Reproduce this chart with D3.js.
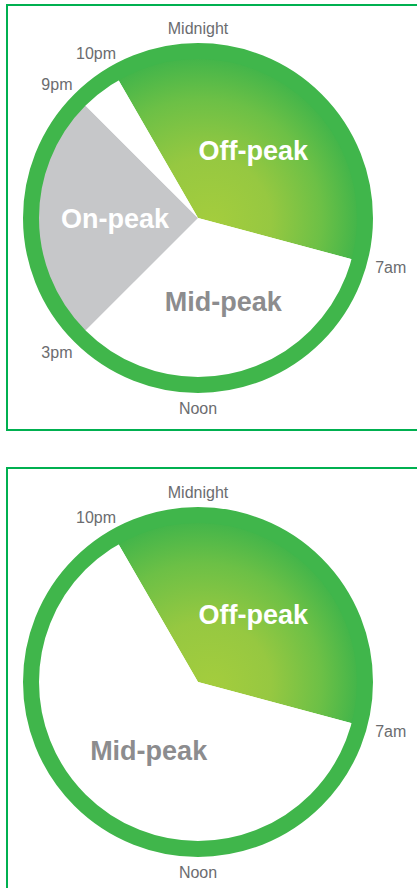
<!DOCTYPE html>
<html>
<head>
<meta charset="utf-8">
<script src="https://cdn.jsdelivr.net/npm/d3@7"></script>
<style>
  html, body { margin: 0; padding: 0; background: #ffffff; }
  svg { display: block; }
</style>
</head>
<body>
<svg id="chart" width="417" height="888"></svg>
<script>
// ---- data ----
const hourTicks = [0, 7, 12, 15, 21, 22];
const hourTickLabels = ["Midnight", "7am", "Noon", "3pm", "9pm", "10pm"];

// Top panel: schedule starting at 10pm (hour 22), durations in hours
const topStartHour = 22;
const topPeriods = ["Off-peak", "Mid-peak", "On-peak", "Mid-peak"];
const topHours = [9, 8, 6, 1];
const topLabelled = [true, true, true, false];
const topTicks = ["Midnight", "10pm", "9pm", "7am", "3pm", "Noon"];

// Bottom panel
const bottomStartHour = 22;
const bottomPeriods = ["Off-peak", "Mid-peak"];
const bottomHours = [9, 15];
const bottomLabelled = [true, true];
const bottomTicks = ["Midnight", "10pm", "7am", "Noon"];

// ---- drawing ----
const svg = d3.select("#chart");
const angle = d3.scaleLinear().domain([0, 24]).range([0, 2 * Math.PI]);

const defs = svg.append("defs");
const grad = defs.append("radialGradient")
  .attr("id", "greenGrad")
  .attr("gradientUnits", "userSpaceOnUse")
  .attr("cx", 0).attr("cy", 0).attr("r", 160).attr("fx", 15).attr("fy", 5);
grad.append("stop").attr("offset", "0%").attr("stop-color", "#a4cd3d");
grad.append("stop").attr("offset", "40%").attr("stop-color", "#96c841");
grad.append("stop").attr("offset", "75%").attr("stop-color", "#6cc046");
grad.append("stop").attr("offset", "100%").attr("stop-color", "#43b54a");

const fillFor = name => name === "Off-peak" ? "url(#greenGrad)" : (name === "On-peak" ? "#c6c7c9" : "#ffffff");
const textFor = name => name === "Mid-peak" ? "#8c8c8e" : "#ffffff";

const R_ring = 167, ringW = 16;
const R_label = 184;
const FONT = "'Liberation Sans', Arial, Helvetica, sans-serif";

function panel(cx, cy, boxY, boxH, periods, hours, labelled, startHour, ticks) {
  // frame
  svg.append("rect")
    .attr("x", 7).attr("y", boxY)
    .attr("width", 430).attr("height", boxH)
    .attr("fill", "none").attr("stroke", "#00b050").attr("stroke-width", 2);

  const g = svg.append("g").attr("transform", `translate(${cx},${cy})`);
  const data = periods.map((p, i) => ({ name: p, hours: hours[i], labelled: labelled[i] }));
  const start = angle(startHour);
  const pie = d3.pie().sort(null).value(d => d.hours)
    .startAngle(start).endAngle(start + 2 * Math.PI);
  const arcs = pie(data);
  const arc = d3.arc().innerRadius(0).outerRadius(R_ring);
  const labelArc = d3.arc().innerRadius(86).outerRadius(86);

  g.selectAll("path.slice").data(arcs).join("path")
    .attr("class", "slice")
    .attr("d", arc)
    .attr("fill", d => fillFor(d.data.name));

  g.append("circle").attr("r", R_ring)
    .attr("fill", "none").attr("stroke", "#40b64b").attr("stroke-width", ringW);

  g.selectAll("text.period").data(arcs.filter(d => d.data.labelled)).join("text")
    .attr("class", "period")
    .attr("transform", d => { const c = labelArc.centroid(d); return `translate(${c[0] + 3},${c[1]})`; })
    .attr("text-anchor", "middle")
    .attr("dy", "0.36em")
    .attr("font-family", FONT)
    .attr("font-weight", "bold")
    .attr("font-size", 27)
    .attr("fill", d => textFor(d.data.name))
    .text(d => d.data.name);

  // hour labels: box pushed outward from an anchor point on radius R_label
  const tickData = ticks.map(t => ({ label: t, hour: hourTicks[hourTickLabels.indexOf(t)] }));
  const tl = g.selectAll("text.hour").data(tickData).join("text")
    .attr("class", "hour")
    .attr("text-anchor", "middle")
    .attr("font-family", FONT)
    .attr("font-size", 16)
    .attr("fill", "#6b6c6f")
    .text(d => d.label);
  tl.each(function (d) {
    const w = this.getComputedTextLength();
    const h = 12;
    const a = angle(d.hour);
    const ax = R_label * Math.sin(a), ay = -R_label * Math.cos(a);
    const tx = ax + (w / 2) * Math.sin(a);
    const tyCenter = ay - (h / 2) * Math.cos(a);
    d3.select(this).attr("x", tx).attr("y", tyCenter + h / 2);
  });
}

panel(198, 218, 5, 425, topPeriods, topHours, topLabelled, topStartHour, topTicks);
panel(198, 682, 468, 440, bottomPeriods, bottomHours, bottomLabelled, bottomStartHour, bottomTicks);
</script>
</body>
</html>
